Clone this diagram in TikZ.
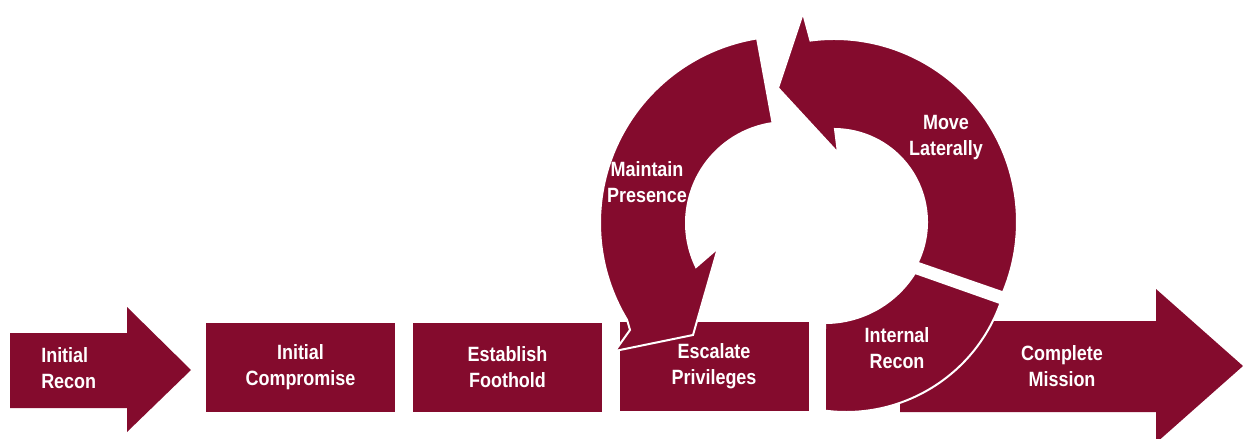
\documentclass[tikz,border=0pt]{standalone}
\usepackage{fontspec}
\setmainfont{Liberation Sans}[FakeStretch=0.87]
\definecolor{maroon}{RGB}{132,11,45}
\newcommand{\lblfont}{\bfseries\fontsize{15.5}{19.5}\selectfont}
\begin{document}
\begin{tikzpicture}[x=0.75pt,y=-0.75pt,
  ringpart/.style={fill=maroon, draw=white, line width=1.5pt, line join=miter},
  flatarrow/.style={fill=maroon},
  box/.style={fill=maroon, minimum width=141.75pt, minimum height=66.75pt, inner sep=0pt, text=white, font=\lblfont, align=center},
  lbl/.style={text=white, font=\lblfont, align=center, inner sep=0pt}]
\useasboundingbox (0,0) rectangle (1243,439);

% Initial Recon arrow
\fill[flatarrow] (10,333) -- (127,333) -- (127,307) -- (191,370) -- (127,432) -- (127,408) -- (10,408) -- cycle;
\node[lbl, align=left, anchor=west] (ir) at (41,368) {Initial\\Recon};

% boxes
\node[box] (ic) at (300.5,367.5) {Initial\\Compromise};
\node[box] (ef) at (507.5,367.5) {Establish\\Foothold};
\node[box] (ep) at (714,366.5) {Escalate\\Privileges};

% Complete Mission arrow
\fill[flatarrow] (900,321) -- (1156,321) -- (1156,289) -- (1243,366) -- (1156,443) -- (1156,412) -- (900,412) -- cycle;
\node[lbl] (cm) at (1062,366) {Complete\\Mission};

% Maintain Presence
\draw[ringpart] ([shift={(787,223)}]260.8:187) arc[start angle=260.8, end angle=148.8, radius=187]
  -- (630,330) -- (615,351) -- (693,335) -- (718,248)
  -- ([shift={(787,223)}]154.2:101) arc[start angle=154.2, end angle=261.8, radius=101] -- cycle;
\node[lbl] (mp) at (647,182) {Maintain\\Presence};

% Move Laterally
\draw[ringpart] (803,13) -- ([shift={(834,222)}]262.6:183) arc[start angle=262.6, end angle=382.6, radius=183]
  -- ([shift={(834,222)}]26:93) arc[start angle=26, end angle=-89.4, radius=93]
  -- (838,153) -- (778,88) -- cycle;
\node[lbl] (ml) at (946,138) {Move\\Laterally};

% Internal Recon
\draw[ringpart] (915,273) -- ([shift={(846,248)}]19.65:164) arc[start angle=19.65, end angle=97.4, radius=164]
  -- (825,323) arc[start angle=90, end angle=31.9, radius=106] -- cycle;
\node[lbl] (inr) at (897,348) {Internal\\Recon};
\end{tikzpicture}
\end{document}
